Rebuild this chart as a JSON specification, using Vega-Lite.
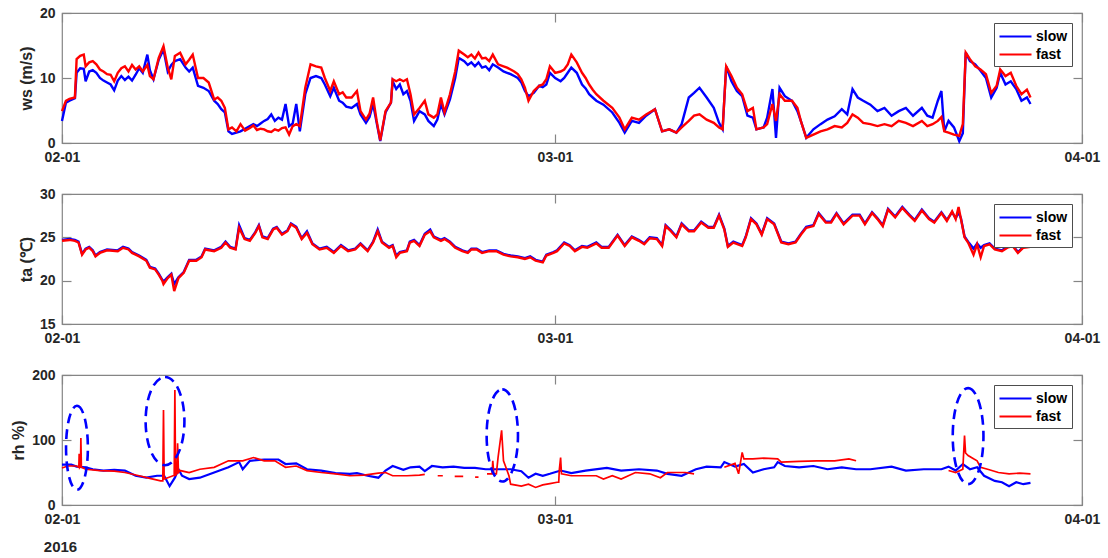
{
  "$schema": "https://vega.github.io/schema/vega-lite/v6.json",
  "background": "white",
  "padding": {"left": 10, "top": 5, "right": 18, "bottom": 4},
  "spacing": 51,
  "bounds": "flush",
  "config": {
    "view": {"stroke": "#858585", "strokeWidth": 1.2},
    "axis": {
      "labelFont": "Liberation Sans", "labelFontWeight": "bold", "labelFontSize": 14, "labelColor": "#262626",
      "titleFont": "Liberation Sans", "titleFontWeight": "bold", "titleFontSize": 16, "titleColor": "#262626",
      "domain": false, "grid": false, "tickColor": "#858585", "tickSize": -9, "tickWidth": 1.2,
      "labelPadding": 16, "labelFlush": false, "labelOverlap": false, "titlePadding": 5
    },
    "legend": {
      "orient": "top-right", "offset": 10, "title": null, "symbolType": "M-1,0H3", "symbolSize": 256,
      "symbolStrokeWidth": 2.2, "labelFontSize": 14, "labelFont": "Liberation Sans", "labelFontWeight": "bold",
      "labelColor": "#000000", "strokeColor": "#4d4d4d", "fillColor": "#ffffff", "padding": 4, "rowPadding": 1, "labelOffset": 19
    }
  },
  "resolve": {"scale": {"color": "independent"}, "legend": {"color": "independent"}},
  "datasets": {
    "ws": [
      {"d":0,"slow":3.4,"fast":4.9},{"d":0.23,"slow":6.2,"fast":6.5},{"d":0.44,"slow":6.5,"fast":6.8},{"d":0.76,"slow":6.9,"fast":7.0},
      {"d":0.86,"slow":10.8,"fast":12.9},{"d":1.07,"slow":11.5,"fast":13.4},{"d":1.28,"slow":11.4,"fast":13.6},{"d":1.39,"slow":9.5,"fast":11.8},
      {"d":1.6,"slow":11.0,"fast":12.4},{"d":1.81,"slow":11.2,"fast":12.6},{"d":2.02,"slow":10.8,"fast":12.1},{"d":2.23,"slow":10.0,"fast":11.3},
      {"d":2.44,"slow":9.6,"fast":11.0},{"d":2.65,"slow":9.3,"fast":10.6},{"d":2.86,"slow":9.0,"fast":10.5},{"d":3.07,"slow":8.1,"fast":9.5},
      {"d":3.28,"slow":9.6,"fast":10.8},{"d":3.49,"slow":10.3,"fast":11.5},{"d":3.7,"slow":9.7,"fast":11.8},{"d":3.91,"slow":10.2,"fast":11.0},
      {"d":4.12,"slow":9.6,"fast":12.0},{"d":4.33,"slow":10.5,"fast":11.3},{"d":4.54,"slow":11.5,"fast":11.8},{"d":4.75,"slow":10.8,"fast":11.0},
      {"d":5.02,"slow":13.6,"fast":12.0},{"d":5.17,"slow":11.2,"fast":10.3},{"d":5.38,"slow":9.8,"fast":9.8},{"d":5.69,"slow":12.8,"fast":13.1},
      {"d":5.97,"slow":14.4,"fast":14.9},{"d":6.22,"slow":11.0,"fast":11.6},{"d":6.43,"slow":12.0,"fast":9.8},{"d":6.64,"slow":12.6,"fast":13.4},
      {"d":6.95,"slow":12.9,"fast":13.9},{"d":7.27,"slow":11.6,"fast":12.1},{"d":7.48,"slow":11.0,"fast":12.8},{"d":7.69,"slow":11.6,"fast":13.6},
      {"d":8.0,"slow":8.8,"fast":10.0},{"d":8.32,"slow":8.5,"fast":10.0},{"d":8.63,"slow":8.0,"fast":9.3},{"d":8.95,"slow":6.5,"fast":6.7},
      {"d":9.16,"slow":6.0,"fast":7.0},{"d":9.37,"slow":5.2,"fast":6.5},{"d":9.58,"slow":4.7,"fast":5.4},{"d":9.79,"slow":1.8,"fast":2.1},
      {"d":10.0,"slow":1.4,"fast":2.4},{"d":10.26,"slow":1.6,"fast":1.8},{"d":10.5,"slow":1.8,"fast":2.9},{"d":10.77,"slow":2.2,"fast":1.9},
      {"d":11.05,"slow":2.6,"fast":2.3},{"d":11.26,"slow":2.9,"fast":2.7},{"d":11.47,"slow":2.6,"fast":2.0},{"d":11.68,"slow":3.0,"fast":2.2},
      {"d":11.89,"slow":3.4,"fast":2.1},{"d":12.1,"slow":3.7,"fast":1.8},{"d":12.31,"slow":4.4,"fast":1.7},{"d":12.52,"slow":3.4,"fast":2.1},
      {"d":12.73,"slow":3.9,"fast":1.9},{"d":12.94,"slow":3.6,"fast":2.3},{"d":13.15,"slow":6.0,"fast":2.4},{"d":13.36,"slow":2.6,"fast":1.3},
      {"d":13.57,"slow":3.0,"fast":2.6},{"d":13.78,"slow":6.0,"fast":2.9},{"d":13.99,"slow":1.8,"fast":2.6},{"d":14.31,"slow":7.5,"fast":8.5},
      {"d":14.62,"slow":10.0,"fast":12.1},{"d":14.94,"slow":10.3,"fast":11.8},{"d":15.25,"slow":10.0,"fast":11.6},{"d":15.46,"slow":9.0,"fast":10.0},
      {"d":15.78,"slow":7.2,"fast":8.0},{"d":15.99,"slow":8.5,"fast":9.5},{"d":16.3,"slow":6.5,"fast":7.5},{"d":16.51,"slow":6.2,"fast":7.8},
      {"d":16.72,"slow":5.6,"fast":7.0},{"d":17.04,"slow":5.4,"fast":7.0},{"d":17.35,"slow":6.0,"fast":8.0},{"d":17.56,"slow":4.4,"fast":4.9},
      {"d":17.88,"slow":3.1,"fast":3.6},{"d":18.09,"slow":4.0,"fast":4.5},{"d":18.3,"slow":6.0,"fast":7.0},{"d":18.51,"slow":3.1,"fast":3.4},
      {"d":18.72,"slow":0.3,"fast":0.4},{"d":19.03,"slow":4.7,"fast":4.9},{"d":19.35,"slow":6.2,"fast":6.2},{"d":19.45,"slow":9.5,"fast":9.8},
      {"d":19.66,"slow":8.3,"fast":9.5},{"d":19.87,"slow":9.0,"fast":9.8},{"d":20.08,"slow":7.5,"fast":9.5},{"d":20.29,"slow":8.0,"fast":9.8},
      {"d":20.5,"slow":6.5,"fast":7.5},{"d":20.71,"slow":3.4,"fast":4.4},{"d":21.03,"slow":4.9,"fast":5.4},{"d":21.34,"slow":4.4,"fast":6.5},
      {"d":21.55,"slow":3.4,"fast":4.4},{"d":21.87,"slow":2.6,"fast":3.9},{"d":22.08,"slow":3.6,"fast":4.4},{"d":22.29,"slow":6.0,"fast":7.0},
      {"d":22.5,"slow":4.4,"fast":4.7},{"d":22.82,"slow":6.7,"fast":7.5},{"d":23.13,"slow":10.0,"fast":11.0},{"d":23.34,"slow":13.1,"fast":14.2},
      {"d":23.66,"slow":12.6,"fast":13.6},{"d":23.87,"slow":12.0,"fast":13.2},{"d":24.08,"slow":12.4,"fast":13.6},{"d":24.29,"slow":11.8,"fast":13.0},
      {"d":24.5,"slow":12.4,"fast":13.9},{"d":24.71,"slow":11.6,"fast":13.0},{"d":24.92,"slow":11.8,"fast":13.1},{"d":25.13,"slow":11.2,"fast":12.6},
      {"d":25.34,"slow":12.1,"fast":13.6},{"d":25.65,"slow":11.6,"fast":12.1},{"d":25.97,"slow":11.0,"fast":11.8},{"d":26.18,"slow":10.8,"fast":11.6},
      {"d":26.39,"slow":10.6,"fast":11.3},{"d":26.6,"slow":10.3,"fast":11.0},{"d":26.81,"slow":10.0,"fast":10.6},{"d":27.02,"slow":9.3,"fast":9.8},
      {"d":27.23,"slow":8.0,"fast":8.5},{"d":27.44,"slow":7.2,"fast":6.5},{"d":27.75,"slow":7.7,"fast":8.0},{"d":28.07,"slow":8.8,"fast":8.8},
      {"d":28.28,"slow":8.6,"fast":9.0},{"d":28.49,"slow":9.0,"fast":9.8},{"d":28.7,"slow":10.8,"fast":11.8},{"d":29.01,"slow":10.0,"fast":10.8},
      {"d":29.33,"slow":9.5,"fast":11.0},{"d":29.54,"slow":10.0,"fast":11.3},{"d":29.75,"slow":10.8,"fast":12.1},{"d":29.96,"slow":11.6,"fast":13.6},
      {"d":30.28,"slow":10.8,"fast":12.4},{"d":30.59,"slow":9.0,"fast":10.8},{"d":30.8,"slow":8.4,"fast":10.0},{"d":31.01,"slow":7.5,"fast":9.0},
      {"d":31.22,"slow":7.0,"fast":8.2},{"d":31.43,"slow":6.5,"fast":7.5},{"d":31.85,"slow":5.9,"fast":6.5},{"d":32.37,"slow":4.7,"fast":5.4},
      {"d":32.79,"slow":3.1,"fast":3.9},{"d":33.1,"slow":1.6,"fast":2.1},{"d":33.52,"slow":3.4,"fast":3.9},{"d":33.94,"slow":3.1,"fast":3.6},
      {"d":34.36,"slow":4.2,"fast":4.4},{"d":34.88,"slow":5.2,"fast":5.2},{"d":35.3,"slow":1.8,"fast":1.8},{"d":35.72,"slow":2.1,"fast":2.1},
      {"d":36.14,"slow":1.6,"fast":1.6},{"d":36.45,"slow":2.9,"fast":2.4},{"d":36.87,"slow":7.0,"fast":3.4},{"d":37.18,"slow":7.7,"fast":4.2},
      {"d":37.5,"slow":8.5,"fast":4.4},{"d":37.92,"slow":7.0,"fast":3.6},{"d":38.34,"slow":5.4,"fast":3.1},{"d":38.65,"slow":3.1,"fast":2.4},
      {"d":38.86,"slow":2.1,"fast":2.1},{"d":39.07,"slow":11.8,"fast":11.8},{"d":39.38,"slow":9.5,"fast":10.3},{"d":39.7,"slow":8.0,"fast":8.5},
      {"d":40.01,"slow":7.2,"fast":7.5},{"d":40.32,"slow":4.2,"fast":4.9},{"d":40.64,"slow":3.9,"fast":5.4},{"d":40.85,"slow":2.1,"fast":2.1},
      {"d":41.27,"slow":2.4,"fast":2.4},{"d":41.48,"slow":3.9,"fast":2.9},{"d":41.79,"slow":8.3,"fast":6.0},{"d":42.0,"slow":0.8,"fast":3.4},
      {"d":42.21,"slow":8.5,"fast":7.5},{"d":42.52,"slow":7.2,"fast":6.5},{"d":42.94,"slow":6.5,"fast":6.5},{"d":43.26,"slow":4.9,"fast":5.4},
      {"d":43.46,"slow":3.4,"fast":3.4},{"d":43.78,"slow":0.8,"fast":0.8},{"d":44.2,"slow":2.1,"fast":1.3},{"d":44.62,"slow":2.9,"fast":1.8},
      {"d":45.03,"slow":3.6,"fast":2.1},{"d":45.45,"slow":4.1,"fast":2.6},{"d":45.87,"slow":5.2,"fast":2.4},{"d":46.19,"slow":4.4,"fast":3.1},
      {"d":46.5,"slow":8.3,"fast":4.4},{"d":46.81,"slow":7.0,"fast":3.9},{"d":47.13,"slow":6.5,"fast":3.1},{"d":47.55,"slow":5.9,"fast":2.9},
      {"d":47.97,"slow":4.9,"fast":2.6},{"d":48.38,"slow":5.4,"fast":2.9},{"d":48.8,"slow":4.2,"fast":2.6},{"d":49.22,"slow":4.9,"fast":3.4},
      {"d":49.64,"slow":5.4,"fast":3.1},{"d":50.06,"slow":4.2,"fast":2.6},{"d":50.58,"slow":5.4,"fast":3.4},{"d":50.9,"slow":4.2,"fast":2.6},
      {"d":51.21,"slow":3.9,"fast":2.9},{"d":51.52,"slow":6.5,"fast":3.4},{"d":51.73,"slow":8.0,"fast":4.0},{"d":51.9,"slow":1.8,"fast":1.8},
      {"d":52.15,"slow":3.4,"fast":1.6},{"d":52.47,"slow":2.4,"fast":1.3},{"d":52.78,"slow":0.3,"fast":1.1},{"d":52.99,"slow":1.5,"fast":2.9},
      {"d":53.16,"slow":13.9,"fast":13.9},{"d":53.41,"slow":12.6,"fast":12.9},{"d":53.72,"slow":12.1,"fast":11.8},{"d":54.03,"slow":11.1,"fast":11.3},
      {"d":54.35,"slow":10.0,"fast":10.6},{"d":54.66,"slow":7.0,"fast":7.7},{"d":54.98,"slow":8.5,"fast":8.8},{"d":55.19,"slow":10.8,"fast":11.3},
      {"d":55.5,"slow":9.0,"fast":10.3},{"d":55.81,"slow":9.5,"fast":10.8},{"d":56.13,"slow":8.3,"fast":8.8},{"d":56.44,"slow":6.5,"fast":7.5},
      {"d":56.76,"slow":7.0,"fast":8.2},{"d":56.97,"slow":6.0,"fast":7.0}
    ],
    "ta": [
      {"d":0,"slow":24.7,"fast":24.6},{"d":0.44,"slow":24.8,"fast":24.7},{"d":0.76,"slow":24.7,"fast":24.6},{"d":0.97,"slow":24.5,"fast":24.4},
      {"d":1.18,"slow":23.1,"fast":23.0},{"d":1.39,"slow":23.7,"fast":23.6},{"d":1.6,"slow":23.9,"fast":23.8},{"d":1.81,"slow":23.5,"fast":23.4},
      {"d":1.97,"slow":22.9,"fast":22.8},{"d":2.23,"slow":23.3,"fast":23.2},{"d":2.65,"slow":23.6,"fast":23.5},{"d":3.28,"slow":23.5,"fast":23.4},
      {"d":3.59,"slow":23.9,"fast":23.8},{"d":3.91,"slow":23.7,"fast":23.6},{"d":4.12,"slow":23.3,"fast":23.2},{"d":4.54,"slow":22.9,"fast":22.8},
      {"d":4.96,"slow":22.4,"fast":22.3},{"d":5.17,"slow":21.6,"fast":21.5},{"d":5.48,"slow":21.4,"fast":21.3},{"d":5.69,"slow":20.8,"fast":20.7},
      {"d":5.9,"slow":20.1,"fast":20.0},{"d":5.97,"slow":19.9,"fast":19.6},{"d":6.22,"slow":20.4,"fast":20.3},{"d":6.43,"slow":20.8,"fast":20.7},
      {"d":6.6,"slow":19.6,"fast":18.8},{"d":6.85,"slow":20.4,"fast":20.3},{"d":7.16,"slow":21.0,"fast":20.9},{"d":7.48,"slow":22.4,"fast":22.3},
      {"d":7.9,"slow":22.4,"fast":22.3},{"d":8.21,"slow":22.8,"fast":22.7},{"d":8.42,"slow":23.7,"fast":23.6},{"d":8.95,"slow":23.5,"fast":23.4},
      {"d":9.37,"slow":23.9,"fast":23.8},{"d":9.62,"slow":24.5,"fast":24.4},{"d":9.89,"slow":23.9,"fast":23.8},{"d":10.21,"slow":23.7,"fast":23.6},
      {"d":10.42,"slow":26.4,"fast":26.1},{"d":10.74,"slow":24.9,"fast":24.8},{"d":11.05,"slow":24.7,"fast":24.6},{"d":11.37,"slow":25.6,"fast":25.5},
      {"d":11.58,"slow":26.4,"fast":26.3},{"d":11.79,"slow":25.1,"fast":25.0},{"d":12.1,"slow":24.9,"fast":24.8},{"d":12.42,"slow":26.0,"fast":25.9},
      {"d":12.63,"slow":26.2,"fast":26.1},{"d":12.94,"slow":25.4,"fast":25.3},{"d":13.26,"slow":25.8,"fast":25.7},{"d":13.47,"slow":26.6,"fast":26.5},
      {"d":13.78,"slow":26.2,"fast":26.1},{"d":14.1,"slow":24.9,"fast":24.8},{"d":14.41,"slow":25.7,"fast":25.5},{"d":14.73,"slow":24.3,"fast":24.2},
      {"d":15.15,"slow":23.7,"fast":23.6},{"d":15.57,"slow":23.9,"fast":23.8},{"d":15.99,"slow":23.3,"fast":23.2},{"d":16.41,"slow":24.1,"fast":24.0},
      {"d":16.83,"slow":23.5,"fast":23.4},{"d":17.25,"slow":23.7,"fast":23.6},{"d":17.56,"slow":24.3,"fast":24.2},{"d":17.98,"slow":23.5,"fast":23.4},
      {"d":18.3,"slow":24.5,"fast":24.4},{"d":18.57,"slow":25.9,"fast":25.7},{"d":18.82,"slow":24.5,"fast":24.4},{"d":19.24,"slow":23.9,"fast":23.8},
      {"d":19.45,"slow":24.1,"fast":24.0},{"d":19.66,"slow":22.9,"fast":22.7},{"d":19.87,"slow":23.3,"fast":23.2},{"d":20.29,"slow":23.5,"fast":23.4},
      {"d":20.46,"slow":24.5,"fast":24.4},{"d":20.71,"slow":24.7,"fast":24.6},{"d":21.03,"slow":24.1,"fast":24.0},{"d":21.34,"slow":25.4,"fast":25.3},
      {"d":21.66,"slow":25.9,"fast":25.7},{"d":21.87,"slow":25.1,"fast":25.0},{"d":22.29,"slow":24.7,"fast":24.6},{"d":22.5,"slow":24.9,"fast":24.8},
      {"d":22.82,"slow":24.5,"fast":24.4},{"d":23.13,"slow":23.9,"fast":23.8},{"d":23.55,"slow":23.5,"fast":23.4},{"d":23.87,"slow":23.3,"fast":23.2},
      {"d":24.08,"slow":23.7,"fast":23.6},{"d":24.39,"slow":23.7,"fast":23.6},{"d":24.71,"slow":23.3,"fast":23.2},{"d":25.13,"slow":23.5,"fast":23.4},
      {"d":25.55,"slow":23.5,"fast":23.4},{"d":25.97,"slow":23.1,"fast":23.0},{"d":26.39,"slow":22.9,"fast":22.8},{"d":26.81,"slow":22.8,"fast":22.7},
      {"d":27.23,"slow":22.6,"fast":22.5},{"d":27.54,"slow":22.8,"fast":22.7},{"d":27.86,"slow":22.4,"fast":22.3},{"d":28.28,"slow":22.2,"fast":22.1},
      {"d":28.49,"slow":23.0,"fast":22.9},{"d":28.91,"slow":23.3,"fast":23.2},{"d":29.12,"slow":23.5,"fast":23.4},{"d":29.54,"slow":24.4,"fast":24.3},
      {"d":29.86,"slow":24.1,"fast":24.0},{"d":30.17,"slow":23.5,"fast":23.4},{"d":30.59,"slow":24.0,"fast":23.9},{"d":30.9,"slow":23.9,"fast":23.8},
      {"d":31.43,"slow":24.4,"fast":24.3},{"d":31.74,"slow":23.9,"fast":23.8},{"d":32.16,"slow":23.9,"fast":23.8},{"d":32.68,"slow":25.3,"fast":25.2},
      {"d":33.1,"slow":24.1,"fast":24.0},{"d":33.52,"slow":25.1,"fast":25.0},{"d":33.94,"slow":24.7,"fast":24.6},{"d":34.25,"slow":24.3,"fast":24.2},
      {"d":34.57,"slow":25.0,"fast":24.9},{"d":34.99,"slow":24.9,"fast":24.8},{"d":35.3,"slow":24.1,"fast":24.0},{"d":35.51,"slow":26.4,"fast":26.3},
      {"d":35.82,"slow":25.8,"fast":25.7},{"d":36.14,"slow":25.1,"fast":25.0},{"d":36.45,"slow":26.6,"fast":26.5},{"d":36.87,"slow":25.8,"fast":25.7},
      {"d":37.18,"slow":25.8,"fast":25.7},{"d":37.6,"slow":26.8,"fast":26.7},{"d":38.02,"slow":26.2,"fast":26.1},{"d":38.34,"slow":26.2,"fast":26.1},
      {"d":38.65,"slow":27.6,"fast":27.5},{"d":38.96,"slow":26.0,"fast":25.9},{"d":39.17,"slow":24.0,"fast":23.9},{"d":39.49,"slow":24.5,"fast":24.4},
      {"d":40.01,"slow":24.1,"fast":24.0},{"d":40.22,"slow":25.1,"fast":25.0},{"d":40.53,"slow":27.2,"fast":27.1},{"d":40.85,"slow":26.6,"fast":26.5},
      {"d":41.16,"slow":25.4,"fast":25.3},{"d":41.48,"slow":27.2,"fast":27.1},{"d":41.89,"slow":26.6,"fast":26.5},{"d":42.31,"slow":24.5,"fast":24.4},
      {"d":42.73,"slow":24.3,"fast":24.2},{"d":43.15,"slow":24.5,"fast":24.4},{"d":43.46,"slow":25.4,"fast":25.3},{"d":43.78,"slow":26.2,"fast":26.1},
      {"d":44.2,"slow":26.4,"fast":26.3},{"d":44.51,"slow":27.8,"fast":27.7},{"d":44.93,"slow":26.8,"fast":26.7},{"d":45.24,"slow":26.8,"fast":26.7},
      {"d":45.56,"slow":27.8,"fast":27.7},{"d":45.98,"slow":26.6,"fast":26.5},{"d":46.5,"slow":27.6,"fast":27.5},{"d":46.92,"slow":27.6,"fast":27.5},
      {"d":47.23,"slow":26.6,"fast":26.5},{"d":47.65,"slow":27.9,"fast":27.8},{"d":47.97,"slow":27.2,"fast":27.1},{"d":48.28,"slow":26.4,"fast":26.3},
      {"d":48.59,"slow":28.3,"fast":28.2},{"d":49.01,"slow":27.4,"fast":27.3},{"d":49.43,"slow":28.5,"fast":28.4},{"d":49.85,"slow":27.6,"fast":27.5},
      {"d":50.16,"slow":27.0,"fast":26.9},{"d":50.58,"slow":28.2,"fast":28.1},{"d":51.0,"slow":27.2,"fast":27.1},{"d":51.31,"slow":26.8,"fast":26.7},
      {"d":51.73,"slow":27.9,"fast":27.8},{"d":52.05,"slow":27.0,"fast":26.9},{"d":52.36,"slow":27.9,"fast":28.0},{"d":52.57,"slow":27.2,"fast":27.1},
      {"d":52.74,"slow":27.9,"fast":28.5},{"d":52.88,"slow":27.2,"fast":27.1},{"d":53.09,"slow":25.1,"fast":25.0},{"d":53.3,"slow":24.5,"fast":24.4},
      {"d":53.62,"slow":23.7,"fast":23.0},{"d":53.83,"slow":24.3,"fast":24.2},{"d":54.04,"slow":23.8,"fast":22.7},{"d":54.24,"slow":24.1,"fast":24.0},
      {"d":54.56,"slow":24.3,"fast":24.2},{"d":54.87,"slow":23.7,"fast":23.6},{"d":55.29,"slow":23.5,"fast":23.4},{"d":55.61,"slow":23.9,"fast":23.8},
      {"d":55.92,"slow":24.1,"fast":24.0},{"d":56.23,"slow":23.3,"fast":23.2},{"d":56.55,"slow":23.9,"fast":23.8},{"d":56.97,"slow":24.0,"fast":23.9}
    ],
    "rh": [
      {"d":0,"k":"slow","v":62},{"d":0.55,"k":"slow","v":62},{"d":0.86,"k":"slow","v":59},{"d":1.39,"k":"slow","v":58},{"d":1.81,"k":"slow","v":55},
      {"d":2.44,"k":"slow","v":53},{"d":3.07,"k":"slow","v":54},{"d":3.7,"k":"slow","v":53},{"d":4.33,"k":"slow","v":45},{"d":4.96,"k":"slow","v":42},
      {"d":5.59,"k":"slow","v":45},{"d":6.01,"k":"slow","v":45},{"d":6.33,"k":"slow","v":29},{"d":6.64,"k":"slow","v":42},{"d":6.85,"k":"slow","v":55},
      {"d":7.06,"k":"slow","v":45},{"d":7.48,"k":"slow","v":40},{"d":8.11,"k":"slow","v":42},{"d":8.95,"k":"slow","v":50},{"d":9.79,"k":"slow","v":58},
      {"d":10.42,"k":"slow","v":66},{"d":10.63,"k":"slow","v":55},{"d":11.05,"k":"slow","v":68},{"d":11.89,"k":"slow","v":70},{"d":12.73,"k":"slow","v":70},
      {"d":13.15,"k":"slow","v":63},{"d":13.78,"k":"slow","v":64},{"d":14.41,"k":"slow","v":55},{"d":15.25,"k":"slow","v":53},{"d":16.09,"k":"slow","v":49},
      {"d":16.93,"k":"slow","v":48},{"d":17.35,"k":"slow","v":49},{"d":17.98,"k":"slow","v":45},{"d":18.61,"k":"slow","v":42},{"d":19.03,"k":"slow","v":53},
      {"d":19.45,"k":"slow","v":60},{"d":20.08,"k":"slow","v":54},{"d":20.5,"k":"slow","v":58},{"d":21.03,"k":"slow","v":59},{"d":21.34,"k":"slow","v":52},
      {"d":21.76,"k":"slow","v":60},{"d":22.39,"k":"slow","v":58},{"d":23.03,"k":"slow","v":59},{"d":23.66,"k":"slow","v":57},{"d":24.29,"k":"slow","v":57},
      {"d":24.92,"k":"slow","v":55},{"d":25.76,"k":"slow","v":55},{"d":26.39,"k":"slow","v":55},{"d":27.02,"k":"slow","v":52},{"d":27.44,"k":"slow","v":42},
      {"d":27.86,"k":"slow","v":48},{"d":28.28,"k":"slow","v":45},{"d":28.7,"k":"slow","v":48},{"d":29.33,"k":"slow","v":53},{"d":29.96,"k":"slow","v":49},
      {"d":30.8,"k":"slow","v":53},{"d":32.05,"k":"slow","v":57},{"d":32.89,"k":"slow","v":53},{"d":33.94,"k":"slow","v":55},{"d":34.99,"k":"slow","v":53},
      {"d":35.61,"k":"slow","v":48},{"d":36.45,"k":"slow","v":45},{"d":37.29,"k":"slow","v":55},{"d":37.92,"k":"slow","v":59},{"d":38.75,"k":"slow","v":58},
      {"d":38.96,"k":"slow","v":66},{"d":39.59,"k":"slow","v":59},{"d":40.11,"k":"slow","v":63},{"d":40.64,"k":"slow","v":50},{"d":41.27,"k":"slow","v":55},
      {"d":41.89,"k":"slow","v":58},{"d":42.1,"k":"slow","v":66},{"d":42.52,"k":"slow","v":60},{"d":43.36,"k":"slow","v":58},{"d":44.2,"k":"slow","v":60},
      {"d":45.03,"k":"slow","v":55},{"d":45.87,"k":"slow","v":58},{"d":46.71,"k":"slow","v":55},{"d":47.55,"k":"slow","v":55},{"d":48.8,"k":"slow","v":59},
      {"d":49.64,"k":"slow","v":53},{"d":50.69,"k":"slow","v":55},{"d":51.73,"k":"slow","v":55},{"d":52.15,"k":"slow","v":59},{"d":52.57,"k":"slow","v":53},
      {"d":52.99,"k":"slow","v":63},{"d":53.41,"k":"slow","v":55},{"d":53.83,"k":"slow","v":58},{"d":54.24,"k":"slow","v":45},{"d":54.87,"k":"slow","v":37},
      {"d":55.29,"k":"slow","v":35},{"d":55.71,"k":"slow","v":29},{"d":56.13,"k":"slow","v":35},{"d":56.55,"k":"slow","v":32},{"d":56.97,"k":"slow","v":34},
      {"d":0,"k":"fast","v":57},{"d":0.34,"k":"fast","v":60},{"d":0.86,"k":"fast","v":60},{"d":0.99,"k":"fast","v":58},{"d":1.01,"k":"fast","v":79},
      {"d":1.04,"k":"fast","v":58},{"d":1.09,"k":"fast","v":60},{"d":1.11,"k":"fast","v":103},{"d":1.14,"k":"fast","v":58},{"d":1.39,"k":"fast","v":55},
      {"d":2.23,"k":"fast","v":53},{"d":3.07,"k":"fast","v":52},{"d":3.7,"k":"fast","v":50},{"d":4.54,"k":"fast","v":45},{"d":5.17,"k":"fast","v":41},
      {"d":5.8,"k":"fast","v":37},{"d":5.93,"k":"fast","v":37},{"d":5.97,"k":"fast","v":146},{"d":6.01,"k":"fast","v":40},{"d":6.22,"k":"fast","v":42},
      {"d":6.53,"k":"fast","v":45},{"d":6.6,"k":"fast","v":45},{"d":6.64,"k":"fast","v":177},{"d":6.68,"k":"fast","v":45},{"d":6.76,"k":"fast","v":50},
      {"d":6.8,"k":"fast","v":95},{"d":6.85,"k":"fast","v":50},{"d":6.95,"k":"fast","v":53},{"d":7.48,"k":"fast","v":50},{"d":8.11,"k":"fast","v":55},
      {"d":8.95,"k":"fast","v":58},{"d":9.79,"k":"fast","v":68},{"d":10.63,"k":"fast","v":68},{"d":11.26,"k":"fast","v":73},{"d":11.89,"k":"fast","v":68},
      {"d":12.52,"k":"fast","v":68},{"d":13.15,"k":"fast","v":58},{"d":13.78,"k":"fast","v":60},{"d":14.41,"k":"fast","v":53},{"d":15.25,"k":"fast","v":50},
      {"d":16.09,"k":"fast","v":48},{"d":16.93,"k":"fast","v":45},{"d":17.77,"k":"fast","v":46},{"d":18.61,"k":"fast","v":49},{"d":19.03,"k":"fast","v":50},
      {"d":19.45,"k":"fast","v":45},{"d":20.29,"k":"fast","v":45},{"d":21.03,"k":"fast","v":46},{"d":21.34,"k":"fast","v":47},{"d":21.5,"k":"fast","v":null},
      {"d":22.1,"k":"fast","v":45},{"d":22.4,"k":"fast","v":45},{"d":22.6,"k":"fast","v":null},{"d":23.1,"k":"fast","v":44},{"d":23.6,"k":"fast","v":44},
      {"d":23.9,"k":"fast","v":null},{"d":24.3,"k":"fast","v":43},{"d":24.5,"k":"fast","v":43},{"d":24.7,"k":"fast","v":null},{"d":25.0,"k":"fast","v":48},
      {"d":25.3,"k":"fast","v":48},{"d":25.34,"k":"fast","v":68},{"d":25.4,"k":"fast","v":48},{"d":25.55,"k":"fast","v":48},{"d":25.65,"k":"fast","v":73},
      {"d":25.86,"k":"fast","v":115},{"d":25.97,"k":"fast","v":68},{"d":26.18,"k":"fast","v":53},{"d":26.29,"k":"fast","v":45},{"d":26.39,"k":"fast","v":32},
      {"d":27.02,"k":"fast","v":29},{"d":27.44,"k":"fast","v":32},{"d":27.86,"k":"fast","v":27},{"d":28.28,"k":"fast","v":31},{"d":28.7,"k":"fast","v":33},
      {"d":29.12,"k":"fast","v":35},{"d":29.22,"k":"fast","v":35},{"d":29.25,"k":"fast","v":53},{"d":29.33,"k":"fast","v":73},{"d":29.38,"k":"fast","v":48},
      {"d":29.96,"k":"fast","v":45},{"d":30.8,"k":"fast","v":45},{"d":31.43,"k":"fast","v":45},{"d":31.85,"k":"fast","v":40},{"d":32.37,"k":"fast","v":45},
      {"d":32.89,"k":"fast","v":40},{"d":33.73,"k":"fast","v":50},{"d":34.57,"k":"fast","v":48},{"d":35.2,"k":"fast","v":42},{"d":35.61,"k":"fast","v":50},
      {"d":36.66,"k":"fast","v":50},{"d":37.18,"k":"fast","v":48},{"d":37.4,"k":"fast","v":null},{"d":38.96,"k":"fast","v":58},{"d":39.59,"k":"fast","v":64},
      {"d":39.8,"k":"fast","v":48},{"d":40.01,"k":"fast","v":81},{"d":40.11,"k":"fast","v":71},{"d":40.64,"k":"fast","v":71},{"d":41.27,"k":"fast","v":72},
      {"d":42.1,"k":"fast","v":71},{"d":42.31,"k":"fast","v":66},{"d":43.36,"k":"fast","v":67},{"d":44.41,"k":"fast","v":68},{"d":45.45,"k":"fast","v":68},
      {"d":46.29,"k":"fast","v":71},{"d":46.71,"k":"fast","v":68},{"d":46.8,"k":"fast","v":null},{"d":52.15,"k":"fast","v":53},{"d":52.57,"k":"fast","v":50},
      {"d":52.99,"k":"fast","v":55},{"d":53.09,"k":"fast","v":107},{"d":53.15,"k":"fast","v":80},{"d":53.3,"k":"fast","v":76},{"d":53.62,"k":"fast","v":71},
      {"d":53.83,"k":"fast","v":68},{"d":54.03,"k":"fast","v":58},{"d":54.45,"k":"fast","v":55},{"d":55.08,"k":"fast","v":50},{"d":55.71,"k":"fast","v":48},
      {"d":56.34,"k":"fast","v":49},{"d":56.97,"k":"fast","v":48}
    ],
    "ell": [
      {"id":"e1","d":0.88,"v":88},{"id":"e2","d":6.06,"v":129},{"id":"e3","d":25.9,"v":107},{"id":"e4","d":53.3,"v":106}
    ]
  },
  "vconcat": [
    {
      "width": 1020, "height": 130,
      "data": {"name": "ws"},
      "transform": [{"fold": ["slow", "fast"], "as": ["k", "v"]}],
      "layer": [
        {
          "mark": {"type": "line", "strokeWidth": 2.4},
          "encoding": {
            "x": {"field": "d", "type": "quantitative", "scale": {"domain": [0, 60], "nice": false, "zero": false},
                  "axis": {"values": [0, 29, 60], "title": null, "labelExpr": "datum.value == 0 ? '02-01' : datum.value == 29 ? '03-01' : '04-01'"}},
            "y": {"field": "v", "type": "quantitative", "scale": {"domain": [0, 20], "nice": false},
                  "axis": {"values": [0, 10, 20], "title": "ws (m/s)"}},
            "color": {"field": "k", "type": "nominal", "scale": {"domain": ["slow", "fast"], "range": ["#0000ff", "#ff0000"]}}
          }
        },
        {
          "mark": {"type": "line", "opacity": 0},
          "encoding": {
            "x": {"field": "d", "type": "quantitative", "axis": {"orient": "top", "values": [0, 29, 60], "labels": false, "title": null}},
            "y": {"field": "v", "type": "quantitative", "axis": {"orient": "right", "values": [0, 10, 20], "labels": false, "title": null}},
            "detail": {"field": "k"}
          }
        }
      ],
      "resolve": {"axis": {"x": "independent", "y": "independent"}}
    },
    {
      "width": 1020, "height": 130,
      "data": {"name": "ta"},
      "transform": [{"fold": ["slow", "fast"], "as": ["k", "v"]}],
      "layer": [
        {
          "mark": {"type": "line", "strokeWidth": 2.4},
          "encoding": {
            "x": {"field": "d", "type": "quantitative", "scale": {"domain": [0, 60], "nice": false, "zero": false},
                  "axis": {"values": [0, 29, 60], "title": null, "labelExpr": "datum.value == 0 ? '02-01' : datum.value == 29 ? '03-01' : '04-01'"}},
            "y": {"field": "v", "type": "quantitative", "scale": {"domain": [15, 30], "nice": false, "zero": false},
                  "axis": {"values": [15, 20, 25, 30], "title": "ta (℃)"}},
            "color": {"field": "k", "type": "nominal", "scale": {"domain": ["slow", "fast"], "range": ["#0000ff", "#ff0000"]}}
          }
        },
        {
          "mark": {"type": "line", "opacity": 0},
          "encoding": {
            "x": {"field": "d", "type": "quantitative", "axis": {"orient": "top", "values": [0, 29, 60], "labels": false, "title": null}},
            "y": {"field": "v", "type": "quantitative", "axis": {"orient": "right", "values": [15, 20, 25, 30], "labels": false, "title": null}},
            "detail": {"field": "k"}
          }
        }
      ],
      "resolve": {"axis": {"x": "independent", "y": "independent"}}
    },
    {
      "width": 1020, "height": 130,
      "layer": [
        {
          "data": {"name": "rh"},
          "mark": {"type": "line", "invalid": "break-paths-filter-domains"},
          "encoding": {
            "x": {"field": "d", "type": "quantitative", "scale": {"domain": [0, 60], "nice": false, "zero": false},
                  "axis": {"values": [0, 29, 60], "title": "2016", "titleAnchor": "start", "titleAlign": "center", "titleX": -2, "titleY": 41, "titleBaseline": "middle", "titleFontSize": 15,
                           "labelExpr": "datum.value == 0 ? '02-01' : datum.value == 29 ? '03-01' : '04-01'"}},
            "y": {"field": "v", "type": "quantitative", "scale": {"domain": [0, 200], "nice": false},
                  "axis": {"values": [0, 100, 200], "title": "rh %)"}},
            "color": {"field": "k", "type": "nominal", "scale": {"domain": ["slow", "fast"], "range": ["#0000ff", "#ff0000"]}},
            "strokeWidth": {"field": "k", "type": "nominal", "legend": null, "scale": {"domain": ["slow", "fast"], "range": [2.2, 1.7]}}
          }
        },
        {
          "data": {"name": "rh"},
          "mark": {"type": "line", "opacity": 0, "invalid": "break-paths-filter-domains"},
          "encoding": {
            "x": {"field": "d", "type": "quantitative", "axis": {"orient": "top", "values": [0, 29, 60], "labels": false, "title": null}},
            "y": {"field": "v", "type": "quantitative", "axis": {"orient": "right", "values": [0, 100, 200], "labels": false, "title": null}},
            "detail": {"field": "k"}
          }
        },
        {
          "data": {"name": "ell"},
          "mark": {"type": "point", "filled": false, "stroke": "#0000ff", "strokeWidth": 2.6, "strokeDash": [10, 6], "opacity": 1},
          "encoding": {
            "x": {"field": "d", "type": "quantitative", "axis": null},
            "y": {"field": "v", "type": "quantitative", "axis": null},
            "shape": {"field": "id", "type": "nominal", "legend": null, "scale": {"domain": ["e1", "e2", "e3", "e4"], "range": [
              "M0,-1C0.144,-1,0.26,-0.552,0.26,0C0.26,0.552,0.144,1,0,1C-0.144,1,-0.26,0.552,-0.26,0C-0.26,-0.552,-0.144,-1,0,-1Z",
              "M0,-1C0.243,-1,0.44,-0.552,0.44,0C0.44,0.552,0.243,1,0,1C-0.243,1,-0.44,0.552,-0.44,0C-0.44,-0.552,-0.243,-1,0,-1Z",
              "M0,-1C0.188,-1,0.34,-0.552,0.34,0C0.34,0.552,0.188,1,0,1C-0.188,1,-0.34,0.552,-0.34,0C-0.34,-0.552,-0.188,-1,0,-1Z",
              "M0,-1C0.177,-1,0.32,-0.552,0.32,0C0.32,0.552,0.177,1,0,1C-0.177,1,-0.32,0.552,-0.32,0C-0.32,-0.552,-0.177,-1,0,-1Z"
            ]}},
            "size": {"field": "id", "type": "ordinal", "legend": null, "scale": {"domain": ["e1", "e2", "e3", "e4"], "range": [7056, 9216, 10816, 10609]}}
          }
        }
      ],
      "resolve": {"axis": {"x": "independent", "y": "independent"}}
    }
  ]
}
